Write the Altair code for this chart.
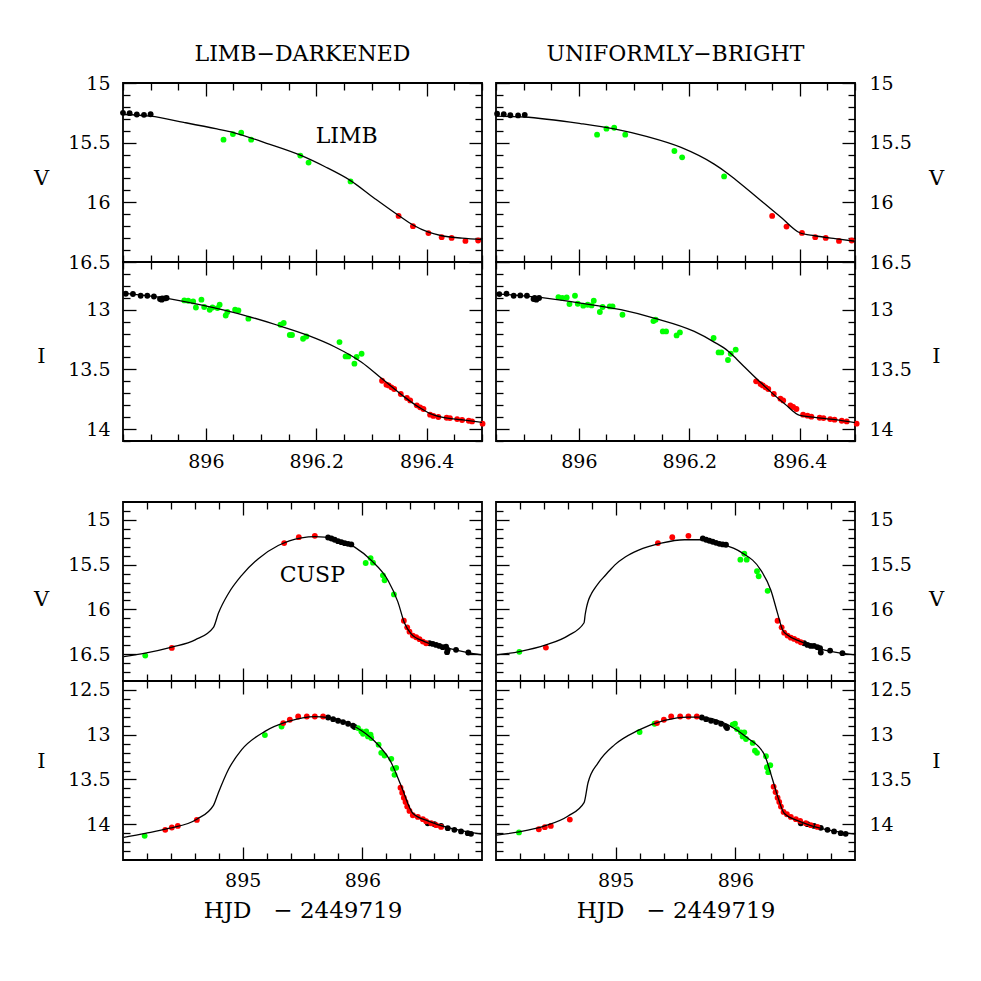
import altair as alt
import pandas as pd

# ---------------- data ----------------
# Top group: zoom on egress (x in HJD-2449719, y in mag)
LD_TV_BLACK = [(895.850, 15.250), (895.862, 15.253), (895.875, 15.264), (895.888, 15.267), (895.900, 15.262)]
LD_TV_GREEN = [(896.032, 15.475), (896.049, 15.428), (896.064, 15.417), (896.082, 15.475), (896.171, 15.608),
               (896.186, 15.667), (896.262, 15.825)]
LD_TV_RED = [(896.349, 16.114), (896.375, 16.200), (896.403, 16.258), (896.427, 16.292), (896.445, 16.298),
             (896.470, 16.323), (896.493, 16.320)]
LD_TV_MODEL = [(895.849, 15.264), (895.900, 15.278), (895.960, 15.330), (896.020, 15.385), (896.050, 15.415),
               (896.110, 15.505), (896.171, 15.605), (896.215, 15.700), (896.262, 15.818), (896.305, 15.965),
               (896.349, 16.110), (896.375, 16.190), (896.403, 16.250), (896.427, 16.280), (896.464, 16.300),
               (896.500, 16.312)]

UB_TV_BLACK = [(895.852, 15.258), (895.864, 15.262), (895.876, 15.270), (895.890, 15.272), (895.902, 15.267)]
UB_TV_GREEN = [(896.033, 15.433), (896.050, 15.383), (896.064, 15.375), (896.084, 15.433), (896.173, 15.570),
               (896.187, 15.623), (896.263, 15.783)]
UB_TV_RED = [(896.350, 16.114), (896.376, 16.203), (896.404, 16.256), (896.428, 16.292), (896.447, 16.298),
             (896.471, 16.323), (896.494, 16.320)]
UB_TV_MODEL = [(895.849, 15.278), (895.900, 15.285), (896.003, 15.340), (896.064, 15.385), (896.124, 15.450),
               (896.185, 15.540), (896.245, 15.680), (896.270, 15.760), (896.285, 15.815), (896.336, 16.010),
               (896.367, 16.130), (896.400, 16.255), (896.427, 16.280), (896.464, 16.305), (896.503, 16.328)]

LD_TI_BLACK = [(895.855, 12.866), (895.868, 12.868), (895.882, 12.883), (895.894, 12.883), (895.906, 12.889),
               (895.917, 12.910), (895.921, 12.905), (895.926, 12.905), (895.929, 12.902), (895.920, 12.916)]
LD_TI_GREEN = [(895.961, 12.922), (895.968, 12.925), (895.977, 12.930), (895.982, 12.981), (895.992, 12.916),
               (895.997, 12.977), (896.007, 13.000), (896.012, 12.981), (896.021, 12.986), (896.025, 12.958),
               (896.036, 13.048), (896.039, 13.019), (896.053, 13.000), (896.059, 13.006), (896.077, 13.075),
               (896.135, 13.126), (896.141, 13.111), (896.152, 13.212), (896.156, 13.212), (896.176, 13.243),
               (896.182, 13.224), (896.242, 13.271), (896.253, 13.391), (896.258, 13.391), (896.269, 13.452),
               (896.273, 13.396), (896.282, 13.369)]
LD_TI_RED = [(896.319, 13.595), (896.327, 13.628), (896.331, 13.634), (896.336, 13.650), (896.341, 13.664),
             (896.353, 13.706), (896.364, 13.740), (896.370, 13.760), (896.382, 13.801), (896.388, 13.818),
             (896.394, 13.832), (896.406, 13.879), (896.412, 13.890), (896.421, 13.899), (896.436, 13.905),
             (896.442, 13.908), (896.455, 13.916), (896.464, 13.924), (896.476, 13.930), (896.482, 13.936),
             (896.501, 13.955)]
LD_TI_MODEL = [(895.849, 12.860), (895.930, 12.905), (895.991, 12.960), (896.076, 13.055), (896.130, 13.130),
               (896.185, 13.215), (896.233, 13.310), (896.282, 13.440), (896.318, 13.575), (896.355, 13.715),
               (896.385, 13.815), (896.406, 13.870), (896.427, 13.900), (896.464, 13.922), (896.501, 13.944)]

UB_TI_BLACK = [(895.856, 12.869), (895.869, 12.866), (895.882, 12.883), (895.894, 12.880), (895.906, 12.883),
               (895.918, 12.910), (895.923, 12.916), (895.928, 12.902), (895.920, 12.902)]
UB_TI_GREEN = [(895.963, 12.894), (895.970, 12.902), (895.978, 12.897), (895.983, 12.952), (895.993, 12.883),
               (895.998, 12.950), (896.008, 12.966), (896.016, 12.958), (896.027, 12.925), (896.023, 12.964),
               (896.038, 13.019), (896.043, 12.977), (896.056, 12.972), (896.061, 12.972), (896.079, 13.042),
               (896.135, 13.095), (896.139, 13.084), (896.152, 13.182), (896.158, 13.182), (896.177, 13.215),
               (896.183, 13.190), (896.244, 13.237), (896.253, 13.358), (896.258, 13.358), (896.270, 13.421),
               (896.275, 13.369), (896.284, 13.335)]
UB_TI_RED = [(896.321, 13.600), (896.329, 13.623), (896.333, 13.634), (896.338, 13.650), (896.343, 13.664),
             (896.353, 13.706), (896.365, 13.745), (896.370, 13.760), (896.383, 13.801), (896.388, 13.815),
             (896.394, 13.832), (896.406, 13.879), (896.414, 13.888), (896.421, 13.896), (896.436, 13.905),
             (896.443, 13.908), (896.455, 13.916), (896.463, 13.921), (896.476, 13.930), (896.485, 13.936),
             (896.503, 13.955)]
UB_TI_MODEL = [(895.849, 12.866), (895.930, 12.897), (896.003, 12.944), (896.076, 13.000), (896.136, 13.070),
               (896.209, 13.182), (896.245, 13.271), (896.270, 13.345), (896.285, 13.410), (896.300, 13.480),
               (896.336, 13.640), (896.373, 13.790), (896.400, 13.886), (896.427, 13.902), (896.464, 13.921),
               (896.503, 13.949)]

# Bottom group: whole event
LD_BV_BLACK = [(895.714, 15.197), (895.742, 15.208), (895.769, 15.222), (895.797, 15.238), (895.825, 15.249),
               (895.853, 15.260), (895.881, 15.267), (895.908, 15.274), (896.561, 16.378), (896.589, 16.386),
               (896.617, 16.397), (896.644, 16.408), (896.672, 16.422), (896.700, 16.416), (896.714, 16.452),
               (896.708, 16.478), (896.783, 16.452), (896.886, 16.482)]
LD_BV_GREEN = [(894.186, 16.516), (896.028, 15.482), (896.069, 15.427), (896.089, 15.478), (896.172, 15.619),
               (896.186, 15.674), (896.264, 15.833)]
LD_BV_RED = [(894.408, 16.430), (895.347, 15.259), (895.469, 15.193), (895.603, 15.178), (896.347, 16.127),
             (896.375, 16.200), (896.394, 16.249), (896.422, 16.293), (896.450, 16.311), (896.478, 16.333),
             (896.506, 16.360), (896.533, 16.378)]
LD_BV_MODEL = [(894.006, 16.527), (894.186, 16.489), (894.408, 16.422), (894.603, 16.341), (894.756, 16.200),
               (894.797, 16.044), (894.881, 15.822), (894.992, 15.619), (895.131, 15.433), (895.297, 15.286),
               (895.492, 15.200), (895.603, 15.186), (895.769, 15.211), (895.936, 15.304), (896.075, 15.452),
               (896.214, 15.674), (896.297, 15.916), (896.353, 16.156), (896.408, 16.274), (896.519, 16.360),
               (896.714, 16.433), (896.881, 16.482), (896.997, 16.508)]

UB_BV_BLACK = [(895.728, 15.208), (895.756, 15.222), (895.783, 15.233), (895.811, 15.244), (895.839, 15.256),
               (895.867, 15.267), (895.895, 15.274), (895.922, 15.278), (896.575, 16.378), (896.603, 16.397),
               (896.631, 16.408), (896.658, 16.408), (896.686, 16.422), (896.708, 16.433), (896.714, 16.482),
               (896.792, 16.460), (896.895, 16.489)]
UB_BV_GREEN = [(894.195, 16.474), (896.042, 15.444), (896.075, 15.378), (896.095, 15.444), (896.181, 15.574),
               (896.195, 15.630), (896.270, 15.793)]
UB_BV_RED = [(894.417, 16.427), (895.353, 15.259), (895.473, 15.193), (895.608, 15.178), (896.353, 16.127),
             (896.387, 16.200), (896.408, 16.260), (896.436, 16.293), (896.464, 16.316), (896.492, 16.330),
             (896.520, 16.349), (896.547, 16.367)]
UB_BV_MODEL = [(894.006, 16.508), (894.195, 16.471), (894.417, 16.397), (894.603, 16.293), (894.736, 16.149),
               (894.745, 16.060), (894.756, 15.980), (894.772, 15.900), (894.795, 15.830), (894.825, 15.765),
               (894.860, 15.700), (894.900, 15.640), (894.950, 15.565), (894.992, 15.505), (895.080, 15.415),
               (895.187, 15.341), (895.381, 15.260), (895.575, 15.222), (895.728, 15.222), (895.881, 15.267),
               (896.047, 15.360), (896.214, 15.563), (896.297, 15.786), (896.353, 16.044), (896.395, 16.230),
               (896.436, 16.286), (896.547, 16.360), (896.714, 16.444), (896.881, 16.489), (897.006, 16.508)]

LD_BI_BLACK = [(895.714, 12.808), (895.756, 12.826), (895.797, 12.844), (895.839, 12.859), (895.881, 12.878),
               (895.922, 12.900), (895.936, 12.914), (896.547, 13.989), (896.603, 14.000), (896.658, 14.019),
               (896.714, 14.044), (896.769, 14.063), (896.825, 14.081), (896.881, 14.100), (896.908, 14.108)]
LD_BI_GREEN = [(894.181, 14.130), (895.186, 13.004), (895.325, 12.908), (895.964, 12.926), (895.992, 12.963),
               (896.006, 12.989), (896.033, 12.963), (896.047, 13.019), (896.075, 13.037), (896.069, 13.000),
               (896.136, 13.111), (896.158, 13.203), (896.186, 13.233), (896.242, 13.270), (896.256, 13.381),
               (896.283, 13.370), (896.269, 13.448)]
LD_BI_RED = [(894.353, 14.063), (894.408, 14.037), (894.458, 14.019), (894.617, 13.952), (895.339, 12.870),
             (895.394, 12.833), (895.464, 12.797), (895.536, 12.797), (895.603, 12.797), (895.672, 12.797),
             (896.319, 13.593), (896.333, 13.648), (896.347, 13.704), (896.361, 13.752), (896.375, 13.803),
             (896.394, 13.852), (896.422, 13.900), (896.464, 13.919), (896.506, 13.944), (896.533, 13.967),
             (896.575, 13.989), (896.617, 14.011), (896.658, 14.030)]
LD_BI_MODEL = [(894.006, 14.148), (894.186, 14.103), (894.381, 14.048), (894.617, 13.944), (894.756, 13.789),
               (894.797, 13.648), (894.881, 13.389), (894.992, 13.167), (895.186, 12.963), (895.381, 12.852),
               (895.603, 12.797), (895.714, 12.808), (895.936, 12.908), (896.103, 13.074), (896.242, 13.314),
               (896.325, 13.574), (896.422, 13.878), (896.547, 13.963), (896.742, 14.048), (896.997, 14.111)]

UB_BI_BLACK = [(895.720, 12.808), (895.756, 12.826), (895.797, 12.844), (895.839, 12.859), (895.881, 12.878),
               (895.922, 12.908), (895.931, 12.926), (896.547, 13.989), (896.603, 14.000), (896.658, 14.019),
               (896.714, 14.041), (896.770, 14.063), (896.825, 14.081), (896.881, 14.100), (896.922, 14.108)]
UB_BI_GREEN = [(894.192, 14.092), (895.200, 12.970), (895.325, 12.878), (895.978, 12.889), (895.997, 12.878),
               (896.014, 12.937), (896.047, 12.974), (896.061, 13.019), (896.075, 12.974), (896.089, 13.048),
               (896.145, 13.092), (896.164, 13.178), (896.181, 13.203), (896.256, 13.241), (896.264, 13.363),
               (896.292, 13.341), (896.275, 13.419)]
UB_BI_RED = [(894.358, 14.056), (894.408, 14.033), (894.458, 14.019), (894.617, 13.948), (895.345, 12.870),
             (895.403, 12.833), (895.464, 12.797), (895.539, 12.797), (895.608, 12.797), (895.678, 12.797),
             (896.320, 13.581), (896.336, 13.641), (896.353, 13.704), (896.367, 13.752), (896.381, 13.803),
             (896.403, 13.863), (896.431, 13.889), (896.464, 13.919), (896.506, 13.944), (896.542, 13.963),
             (896.589, 13.989), (896.631, 14.011), (896.686, 14.030)]
UB_BI_MODEL = [(894.006, 14.122), (894.192, 14.086), (894.408, 14.019), (894.603, 13.908), (894.736, 13.759),
               (894.769, 13.537), (894.853, 13.314), (894.992, 13.111), (895.187, 12.952), (895.408, 12.841),
               (895.603, 12.803), (895.714, 12.803), (895.937, 12.889), (896.103, 13.037), (896.242, 13.222),
               (896.311, 13.500), (896.353, 13.686), (896.408, 13.878), (896.547, 13.974), (896.742, 14.056),
               (897.006, 14.111)]

# axis ranges and ticks
TOP_X_DOMAIN = [895.85, 896.5]
TOP_X_MAJOR = [896.0, 896.2, 896.4]
TOP_X_MINOR = [895.85, 895.9, 895.95, 896.05, 896.1, 896.15, 896.25, 896.3, 896.35, 896.45, 896.5]
TOP_X_LABELS = [896.0, 896.2, 896.4]
BOT_X_DOMAIN = [894.0, 897.0]
BOT_X_MAJOR = [895.0, 896.0]
BOT_X_MINOR = [894.2, 894.4, 894.6, 894.8, 895.2, 895.4, 895.6, 895.8, 896.2, 896.4, 896.6, 896.8]
BOT_X_LABELS = [895.0, 896.0]

TV_DOMAIN = [15.0, 16.5]
TV_MAJOR = [15.0, 15.5, 16.0, 16.5]
TV_MINOR = [15.1, 15.2, 15.3, 15.4, 15.6, 15.7, 15.8, 15.9, 16.1, 16.2, 16.3, 16.4]
TI_DOMAIN = [12.6, 14.1]
TI_MAJOR = [13.0, 13.5, 14.0]
TI_MINOR = [12.7, 12.8, 12.9, 13.1, 13.2, 13.3, 13.4, 13.6, 13.7, 13.8, 13.9, 14.1]
BV_DOMAIN = [14.8, 16.8]
BV_MAJOR = [15.0, 15.5, 16.0, 16.5]
BV_MINOR = [14.9, 15.1, 15.2, 15.3, 15.4, 15.6, 15.7, 15.8, 15.9, 16.1, 16.2, 16.3, 16.4, 16.6, 16.7]
BI_DOMAIN = [12.4, 14.4]
BI_MAJOR = [12.5, 13.0, 13.5, 14.0]
BI_MINOR = [12.6, 12.7, 12.8, 12.9, 13.1, 13.2, 13.3, 13.4, 13.6, 13.7, 13.8, 13.9, 14.1, 14.2, 14.3]

COL_TITLES = ["LIMB\u2212DARKENED", "UNIFORMLY\u2212BRIGHT"]
X_TITLE = "HJD\u00a0\u00a0\u00a0\u2212\u00a02449719"
NOTE_LIMB = ("LIMB", 896.255, 15.44)
NOTE_CUSP = ("CUSP", 895.582, 15.62)

# ---------------- styling ----------------
FONT = "DejaVu Serif"
W, H = 359, 179
GAP = 61
MAJ, MINL = 13, 7
TICKW = 1.3


def pts_frame(black, green, red):
    rows = []
    for col, arr in (("#000000", black), ("#00ff00", green), ("#ff0000", red)):
        for x, y in arr:
            rows.append({"x": x, "y": y, "c": col})
    return pd.DataFrame(rows)


def line_frame(model):
    return pd.DataFrame({"x": [p[0] for p in model], "y": [p[1] for p in model], "o": list(range(len(model)))})


def tick_axis(orient, values, size, offset):
    return alt.Axis(orient=orient, values=values, tickSize=size, offset=offset, labels=False,
                    title=None, domain=False, grid=False, ticks=True, tickColor="black",
                    tickWidth=TICKW)


def panel(model, black, green, red, xdom, xmaj, xmin, xlab, ydom, ymaj, ymin, ylab,
          side, ytitle, ytitle_y, xtitle=None, show_xlabels=False, title=None, note=None):
    xs = alt.Scale(domain=xdom, nice=False, zero=False)
    ys = alt.Scale(domain=ydom, nice=False, zero=False, reverse=True)
    ldf = line_frame(model)
    pdf = pts_frame(black, green, red)

    if show_xlabels:
        xlab_axis = alt.Axis(orient="bottom", values=xlab, ticks=False, tickSize=0, domain=False, grid=False,
                             labelFont=FONT, labelFontSize=19, labelColor="black", labelPadding=11,
                             labelFlush=False, labelOverlap=False, format="~g",
                             title=xtitle if xtitle else None, titleFont=FONT, titleFontSize=23,
                             titleFontWeight="normal", titleColor="black", titleBaseline="alphabetic",
                             titleY=57)
    else:
        xlab_axis = None
    if side == "left":
        ylab_axis = alt.Axis(orient="left", values=ylab, ticks=False, tickSize=0, domain=False, grid=False,
                             labelFont=FONT, labelFontSize=19, labelColor="black", labelPadding=13,
                             labelFlush=False, labelOverlap=False, format="~g",
                             title=ytitle, titleFont=FONT, titleFontSize=21, titleFontWeight="normal",
                             titleColor="black", titleAngle=0, titleAlign="center",
                             titleBaseline="alphabetic", titleX=-82, titleY=ytitle_y)
    else:
        ylab_axis = alt.Axis(orient="right", values=ylab, ticks=False, tickSize=0, domain=False, grid=False,
                             labelFont=FONT, labelFontSize=19, labelColor="black", labelPadding=14,
                             labelFlush=False, labelOverlap=False, format="~g",
                             title=ytitle, titleFont=FONT, titleFontSize=21, titleFontWeight="normal",
                             titleColor="black", titleAngle=0, titleAlign="center",
                             titleBaseline="alphabetic", titleX=81, titleY=ytitle_y)

    def enc(xaxis, yaxis):
        return dict(x=alt.X("x:Q", scale=xs, axis=xaxis), y=alt.Y("y:Q", scale=ys, axis=yaxis))

    layers = []
    layers.append(alt.Chart(pdf).mark_circle(size=34, opacity=1).encode(
        color=alt.Color("c:N", scale=None), **enc(xlab_axis, ylab_axis)))
    layers.append(alt.Chart(ldf).mark_line(color="black", strokeWidth=1.3, clip=True,
                                           interpolate="monotone").encode(
        order="o:Q",
        **enc(tick_axis("top", xmaj, MAJ, -H), tick_axis("right", ymaj, MAJ, -W))))
    layers.append(alt.Chart(ldf).mark_point(opacity=0).encode(
        **enc(tick_axis("top", xmin, MINL, -H), tick_axis("right", ymin, MINL, -W))))
    layers.append(alt.Chart(ldf).mark_point(opacity=0).encode(
        **enc(tick_axis("bottom", xmaj, MAJ, -H), tick_axis("left", ymaj, MAJ, -W))))
    layers.append(alt.Chart(ldf).mark_point(opacity=0).encode(
        **enc(tick_axis("bottom", xmin, MINL, -H), tick_axis("left", ymin, MINL, -W))))
    if note is not None:
        ndf = pd.DataFrame({"x": [note[1]], "y": [note[2]], "t": [note[0]]})
        layers.append(alt.Chart(ndf).mark_text(font=FONT, fontSize=22, color="black",
                                              align="center", baseline="middle").encode(
            text="t:N", x=alt.X("x:Q", scale=xs, axis=None), y=alt.Y("y:Q", scale=ys, axis=None)))

    props = dict(width=W, height=H)
    if title is not None:
        props["title"] = alt.TitleParams(text=title, font=FONT, fontSize=22, fontWeight="normal",
                                         color="black", anchor="middle", baseline="alphabetic",
                                         offset=-9, frame="group")
    return alt.layer(*layers).resolve_axis(x="independent", y="independent").properties(**props)


def spacer():
    return alt.Chart(pd.DataFrame({"a": [0]})).mark_point(opacity=0).encode(
        x=alt.value(0), y=alt.value(0)).properties(
        width=W, height=GAP, view=alt.ViewBackground(strokeOpacity=0, stroke="white"))


tv_l = panel(LD_TV_MODEL, LD_TV_BLACK, LD_TV_GREEN, LD_TV_RED, TOP_X_DOMAIN, TOP_X_MAJOR, TOP_X_MINOR,
             TOP_X_LABELS, TV_DOMAIN, TV_MAJOR, TV_MINOR, TV_MAJOR, "left", "V", 101,
             title=COL_TITLES[0], note=NOTE_LIMB)
tv_r = panel(UB_TV_MODEL, UB_TV_BLACK, UB_TV_GREEN, UB_TV_RED, TOP_X_DOMAIN, TOP_X_MAJOR, TOP_X_MINOR,
             TOP_X_LABELS, TV_DOMAIN, TV_MAJOR, TV_MINOR, TV_MAJOR, "right", "V", 101,
             title=COL_TITLES[1])
ti_l = panel(LD_TI_MODEL, LD_TI_BLACK, LD_TI_GREEN, LD_TI_RED, TOP_X_DOMAIN, TOP_X_MAJOR, TOP_X_MINOR,
             TOP_X_LABELS, TI_DOMAIN, TI_MAJOR, TI_MINOR, TI_MAJOR, "left", "I", 100, show_xlabels=True)
ti_r = panel(UB_TI_MODEL, UB_TI_BLACK, UB_TI_GREEN, UB_TI_RED, TOP_X_DOMAIN, TOP_X_MAJOR, TOP_X_MINOR,
             TOP_X_LABELS, TI_DOMAIN, TI_MAJOR, TI_MINOR, TI_MAJOR, "right", "I", 100, show_xlabels=True)
bv_l = panel(LD_BV_MODEL, LD_BV_BLACK, LD_BV_GREEN, LD_BV_RED, BOT_X_DOMAIN, BOT_X_MAJOR, BOT_X_MINOR,
             BOT_X_LABELS, BV_DOMAIN, BV_MAJOR, BV_MINOR, BV_MAJOR, "left", "V", 103, note=NOTE_CUSP)
bv_r = panel(UB_BV_MODEL, UB_BV_BLACK, UB_BV_GREEN, UB_BV_RED, BOT_X_DOMAIN, BOT_X_MAJOR, BOT_X_MINOR,
             BOT_X_LABELS, BV_DOMAIN, BV_MAJOR, BV_MINOR, BV_MAJOR, "right", "V", 103)
bi_l = panel(LD_BI_MODEL, LD_BI_BLACK, LD_BI_GREEN, LD_BI_RED, BOT_X_DOMAIN, BOT_X_MAJOR, BOT_X_MINOR,
             BOT_X_LABELS, BI_DOMAIN, BI_MAJOR, BI_MINOR, BI_MAJOR, "left", "I", 86,
             xtitle=X_TITLE, show_xlabels=True)
bi_r = panel(UB_BI_MODEL, UB_BI_BLACK, UB_BI_GREEN, UB_BI_RED, BOT_X_DOMAIN, BOT_X_MAJOR, BOT_X_MINOR,
             BOT_X_LABELS, BI_DOMAIN, BI_MAJOR, BI_MINOR, BI_MAJOR, "right", "I", 86,
             xtitle=X_TITLE, show_xlabels=True)

chart = alt.concat(tv_l, tv_r, ti_l, ti_r, spacer(), spacer(), bv_l, bv_r, bi_l, bi_r,
                   columns=2, spacing={"row": 0, "column": 14}, bounds="flush").properties(
    padding={"left": 24, "top": 34, "right": 5, "bottom": 5}
).configure(background="white", view=alt.ViewConfig(stroke="black", strokeWidth=1.8))

chart.save("out.html", embed_options={"renderer": "svg", "actions": False})
